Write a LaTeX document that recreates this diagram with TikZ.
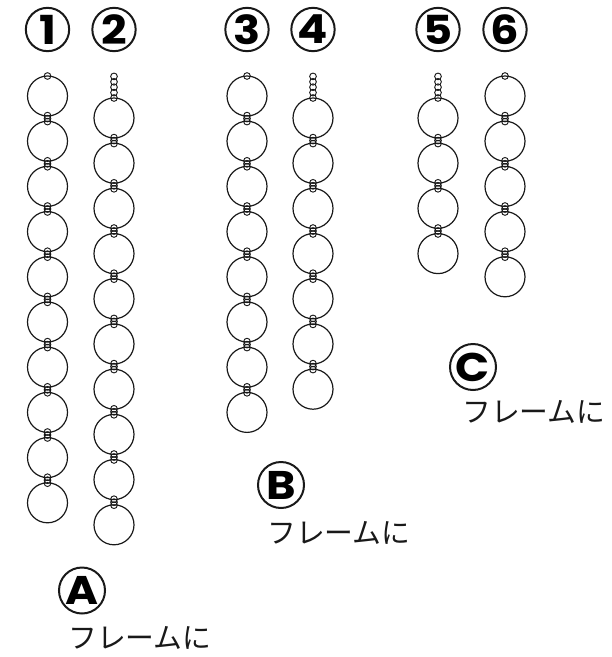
\documentclass[tikz,border=0pt]{standalone}
\usepackage{fontspec}
\newfontfamily\badgefont[FakeStretch=1.12]{Poppins Bold}
\newfontfamily\jpfont{Noto Sans CJK JP}
\tikzset{
  bigring/.style={draw=black!90, line width=0.9pt, circle, inner sep=0pt, minimum size=30pt},
  linkring/.style={draw=black!90, line width=0.7pt, circle, inner sep=0pt, minimum size=5pt},
  badge/.style={draw=black!90, line width=1.5pt, circle, inner sep=0pt, minimum size=32.5pt,
    font=\fontsize{30pt}{30pt}\badgefont},
  bigbadge/.style={badge, minimum size=34.5pt},
  framelabel/.style={inner sep=0pt, anchor=west, text=black!90, font=\fontsize{21.6pt}{23pt}\jpfont},
}
\begin{document}
\begin{tikzpicture}[x=0.75pt, y=-0.75pt]
  \useasboundingbox (0,0) rectangle (611,657);

  % numbered chains: number / x / y of first circle / circles / small rings on top
  \foreach \num/\cx/\cy/\cnt/\extra in {1/47.5/96/10/0, 2/114/118/10/4, 3/247/96/8/0, 4/313/118/7/4, 5/438/118/4/4, 6/505/96/5/0} {
    \node[badge] (num\num) at (\cx,29.5) {\num};
    \foreach \i in {1,...,\cnt} {
      \node[bigring] (ring\num-\i) at (\cx,{\cy+45.2*(\i-1)}) {};
    }
    % links between the circles
    \pgfmathtruncatemacro{\last}{\cnt-1}
    \foreach \i in {1,...,\last} {
      \foreach \d in {-3,0,3} {
        \node[linkring] (link\num-\i-\d) at (\cx,{\cy+45.2*(\i-1)+22.6+\d}) {};
      }
    }
    % top of the chain
    \node[linkring] (top\num) at (\cx,{\cy-20}) {};
    \ifnum\extra>0
      \foreach \k in {1,...,\extra} {
        \node[linkring] (top\num-\k) at (\cx,{\cy-20-5.4*\k}) {};
      }
    \fi
  }

  \node[bigbadge] (groupA) at (82,590.5) {A};
  \node[framelabel] (frameA) at (68,638) {フレームに};
  \node[bigbadge] (groupB) at (281,485) {B};
  \node[framelabel] (frameB) at (267,533) {フレームに};
  \node[bigbadge] (groupC) at (473,367) {C};
  \node[framelabel] (frameC) at (462,412) {フレームに};
\end{tikzpicture}
\end{document}
